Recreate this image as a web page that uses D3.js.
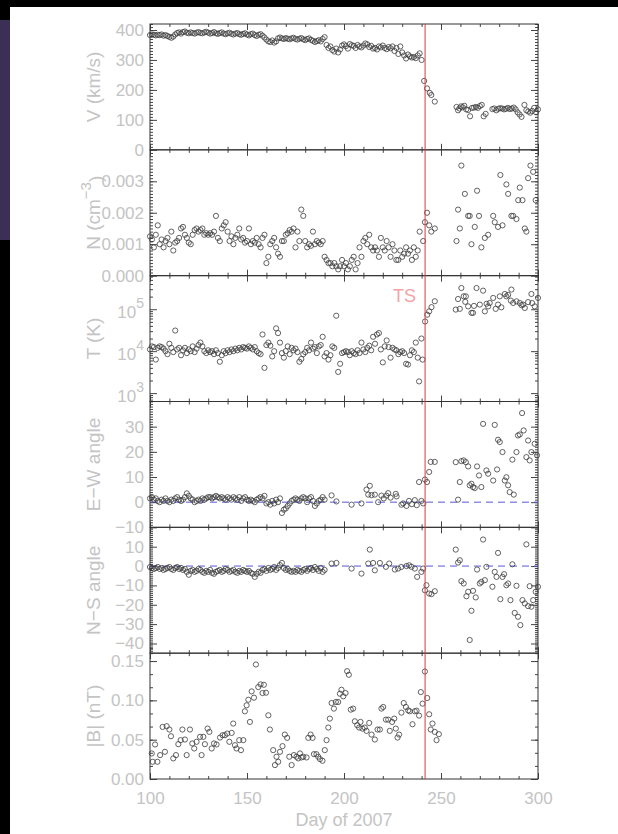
<!DOCTYPE html>
<html>
<head>
<meta charset="utf-8">
<script src="https://cdn.jsdelivr.net/npm/d3@7"></script>
<style>
  body { margin: 0; background: #000; }
  svg { display: block; }
  text { font-family: "Liberation Sans", Arial, sans-serif; }
</style>
</head>
<body>
<script>
// Voyager 2 plasma / field data around the termination shock, days of 2007
const dayTicks = [100, 150, 200, 250, 300];
const shockDay = 241.8;

const speed = [[100,383],[101,385],[102,384],[103,382],[104,384],[105,383],[106,385],[107,381],[108,383],[109,380],[110,377],[111,374],[112,378],[113,385],[114,390],[115,392],[116,388],[117,393],[118,395],[119,391],[120,389],[121,392],[122,390],[123,388],[124,391],[125,393],[126,390],[127,389],[128,392],[129,394],[130,391],[131,388],[132,390],[133,393],[134,389],[135,387],[136,390],[137,392],[138,388],[139,386],[140,389],[141,391],[142,387],[143,385],[144,388],[145,390],[146,386],[147,384],[148,387],[149,389],[150,385],[151,382],[152,386],[153,388],[154,383],[155,380],[156,384],[157,386],[158,381],[159,375],[160,368],[161,362],[162,360],[163,365],[164,358],[165,362],[166,372],[167,375],[168,372],[169,370],[170,373],[171,371],[172,369],[173,372],[174,374],[175,370],[176,368],[177,371],[178,373],[179,369],[180,366],[181,370],[182,372],[183,367],[184,364],[185,360],[186,363],[187,366],[188,362],[189,370],[190,376],
  [191,350],[192,340],[193,345],[194,333],[195,328],[196,338],[197,325],[198,335],[199,348],[200,352],[201,346],[202,338],[203,353],[204,349],[205,347],[206,340],[207,350],[208,345],[209,342],[210,348],[211,355],[212,352],[213,343],[214,347],[215,338],[216,340],[217,335],[218,345],[219,342],[220,348],[221,340],[222,336],[223,343],[224,339],[225,345],[226,330],[227,340],[228,320],[229,345],[230,325],[231,315],[232,305],[233,318],[234,312],[235,308],[236,310],[237,306],[238,315],[239,322],[240,300],[241.3,230],[242.8,205],[244.2,190],[245,183],[246.8,161],
  [258,143],[258.8,132],[259.5,138],[260.3,145],[261.2,142],[262,147],[263,135],[264,133],[265,112],[266,140],[267,141],[268,143],[269,140],[270,146],[271,150],[272,112],[273,120],[276.5,136],[277.5,138],[278.5,132],[279.5,137],[280.5,139],[281.5,138],[282.5,135],[283.5,137],[284.5,140],[285.5,136],[286.5,138],[287.5,141],[288.5,135],[289.5,125],[290.5,118],[291.5,110],[293,150],[294,132],[295,128],[296,124],[297,130],[298,140],[299,125],[300,135]];

const density = [[100,.00125],[101,.00115],[102,.0009],[103,.0013],[104,.0016],[105,.001],[106,.00115],[107,.0009],[108,.0011],[109,.0012],[110,.001],[111,.0014],[112,.0008],[113,.00105],[114,.0011],[115,.0012],[116,.0015],[117,.00155],[118,.0013],[119,.0012],[120,.00105],[121,.001],[122,.0013],[123,.00145],[124,.0015],[125,.0014],[126,.00145],[127,.0015],[128,.0013],[129,.00135],[130,.0013],[131,.00135],[132,.0013],[133,.0014],[134,.0019],[135,.0012],[136,.0011],[137,.0015],[138,.0016],[139,.0017],[140,.0014],[141,.0011],[142,.00125],[143,.001],[144,.0012],[145,.0013],[146,.0015],[147,.00115],[148,.0012],[149,.00105],[150,.0011],[151,.0015],[152,.001],[153,.0011],[154,.00105],[155,.0012],[156,.001],[157,.0009],[158,.0012],[159,.0013],[160,.0004],[161,.0006],[162,.001],[163,.0011],[164,.0012],[165,.0009],[166,.0007],[167,.0006],[168,.0011],[169,.0011],[170,.0013],[171,.00135],[172,.00145],[173,.0014],[174,.0015],[175,.0009],[176,.0014],[177,.0011],[178,.0021],[179,.0019],[180,.0011],[181,.0009],[182,.001],[183,.00095],[184,.0014],[185,.001],[186,.0011],[187,.00105],[188,.001],[189,.0011],[190,.0006],[191,.0005],[192,.0004],[193,.0004],[194,.0003],[195,.0004],[196,.0003],[197,.0002],[198,.0003],[199,.0005],[200,.0003],[201,.0004],[202,.0002],[203,.0003],[204,.0005],[205,.0006],[206,.0002],[207,.0004],[208,.0009],[209,.0006],[210,.0011],[211,.0012],[212,.001],[213,.0013],[214,.0009],[215,.0008],[216,.0009],[217,.0008],[218,.0006],[219,.0012],[220,.0009],[221,.0008],[222,.0011],[223,.0009],[224,.0006],[225,.001],[226,.0008],[227,.0005],[228,.0005],[229,.0008],[230,.0006],[231,.0007],[232,.0009],[233,.0007],[234,.0008],[235,.0005],[236,.0009],[237,.0006],[238,.0008],[239,.0014],[240.8,.0011],[241.7,.0017],[242.8,.002],[243.9,.0016],[245,.0014],[246.8,.0015],
  [258,.0011],[258.8,.0021],[259.7,.0015],[260.5,.0035],[262.3,.0026],[264,.0019],[264.8,.0019],[265.7,.001],[267.4,.00155],[268.6,.0027],[269.6,.0019],[270.8,.0009],[272.6,.0012],[274.3,.0013],[276.9,.0019],[277.7,.0017],[279.4,.00155],[280.6,.0032],[281.7,.0016],[283.7,.0029],[284.6,.0026],[286.3,.0019],[287.2,.0019],[288.9,.0018],[289.8,.0024],[290.6,.0028],[292,.0024],[293.2,.0015],[294,.0014],[294.9,.0031],[296.1,.0035],[297.5,.0033],[298.8,.0024]];

const temperature = [[100,11000],[101,13000],[102,12500],[103,6300],[104,12000],[105,13000],[106,12500],[107,11500],[108,10000],[109,8500],[110,15000],[111,12000],[112,9500],[113,31000],[114,11000],[115,12000],[116,8000],[117,10500],[118,12000],[119,9000],[120,11000],[121,10000],[122,13000],[123,9500],[124,11500],[125,14000],[126,16000],[127,13000],[128,10000],[129,9000],[130,10500],[131,9500],[132,10000],[133,8500],[134,10500],[135,9000],[136,5600],[137,8000],[138,10000],[139,9000],[140,10500],[141,9500],[142,11000],[143,10000],[144,11500],[145,10500],[146,12000],[147,11000],[148,12500],[149,12000],[150,11500],[151,13000],[152,12000],[153,11000],[154,12500],[155,10000],[156,9000],[157,8500],[158,25000],[159,4000],[160,14000],[161,16000],[162,13500],[163,7500],[164,10000],[165,35000],[166,27000],[167,16000],[168,9000],[169,7000],[170,10000],[171,13000],[172,8500],[173,12000],[174,10500],[175,11500],[176,9500],[177,5600],[178,6500],[179,8500],[180,9500],[181,12000],[182,10500],[183,16000],[184,11500],[185,12500],[186,9000],[187,13000],[188,14000],[189,22000],[190,7500],[191,9000],[192,6300],[193,8000],[194,13000],[195,12000],[196,70000],[197,3200],[198,5000],[199,9000],[200,9500],[201,10000],[202,9500],[203,8000],[204,10000],[205,9000],[206,8500],[207,10500],[208,9000],[209,16000],[210,11000],[211,9500],[212,12000],[213,13500],[214,10500],[215,22000],[216,15000],[217,25000],[218,27000],[219,11000],[220,5400],[221,13000],[222,18000],[223,12500],[224,7000],[225,12000],[226,11000],[227,10500],[228,8500],[229,9500],[230,10000],[231,9000],[232,5000],[233,4800],[234,8000],[235,10500],[236,9500],[237,16000],[238,7000],[238.7,1900],[239.9,20000],[240.5,6300],[241.8,51000],[242.9,74000],[243.9,89000],[245.1,112000],[246.8,155000],
  [257.6,98000],[258.8,175000],[259.7,102000],[260.5,320000],[261.7,203000],[262.5,150000],[262.8,203000],[264,117000],[265.7,82000],[266.5,82000],[267,120000],[268.3,320000],[270,129000],[271.7,277000],[272.6,89000],[273.5,135000],[274.3,117000],[275.1,141000],[276.9,186000],[278.2,102000],[279.4,129000],[280.3,203000],[281.1,111000],[282.9,231000],[283.7,203000],[284.6,220000],[286,160000],[286.3,294000],[287.2,141000],[288.9,154000],[290.6,141000],[291.5,125000],[292.3,129000],[293.2,107000],[294.9,148000],[296.6,231000],[297,140000],[298.3,117000],[300,186000]];

const ewAngle = [[100,1.5],[101,2],[102,1],[103,1.5],[104,0.5],[105,0],[106,1],[107,0.5],[108,1.5],[109,0.5],[110,0],[111,1],[112,0.5],[113,1.5],[114,2],[115,1],[116,0.5],[117,1],[118,2],[119,3.5],[120,2.5],[121,1.5],[122,1],[123,0],[124,0.5],[125,1],[126,0.5],[127,1.5],[128,1],[129,1.5],[130,2],[131,2],[132,1.5],[133,2],[134,2.5],[135,2],[136,1.5],[137,2],[138,1.5],[139,1],[140,2],[141,1.5],[142,1],[143,2],[144,1.5],[145,1],[146,2],[147,0.5],[148,1.5],[149,2],[150,1],[151,0.5],[152,1],[153,0.5],[154,0],[155,1],[156,1.5],[157,2],[158,1.5],[159,2.5],[160,-0.5],[161,0],[162,-1],[163,0.5],[164,-0.5],[165,1],[166,0],[167,1.5],[168,-4.3],[169,-3],[170,-2.5],[171,-1.5],[172,-0.5],[173,0.5],[174,1],[175,1.5],[176,1],[177,0.5],[178,1.5],[179,2],[180,1.5],[181,0],[182,1.5],[183,2],[184,0.5],[185,-1.5],[186,-0.5],[187,0.5],[188,1],[189,2],[190,1],
  [193.6,2.7],[196.1,0.3],[203.9,-1],[209,-0.5],[211.6,5],[212.5,3],[213.3,6.5],[214.2,2.8],[215.9,3],[217.6,0],[219.3,2.6],[220.5,1.5],[221.9,2.6],[222.8,3.6],[224,1.8],[226.7,3.3],[227.1,2.3],[229.6,-1],[230.5,-0.5],[232.2,-1.5],[233.5,0.5],[235,-0.8],[236.5,0.8],[237.5,-1.2],[238.7,8],[239.9,0.5],[240.8,-0.5],[241.7,9],[242.8,8],[243.9,12],[244.7,16],[246.8,16],
  [257.6,15.9],[258.8,1],[259.7,8],[260.5,16.3],[261.7,16.6],[262.8,15.9],[264,14.2],[264.8,6.7],[265.7,7.3],[266.5,6],[267.4,5.6],[268.6,14.2],[269.6,10.6],[270.8,6],[271.7,31.1],[273.4,12.6],[274.3,11.3],[276.9,8.6],[277.7,30.7],[278.9,13],[279.4,24.8],[280.3,23.9],[281.7,19.9],[282.9,8.6],[283.7,9.9],[284.6,6.7],[285.4,4],[286.8,16.9],[287.5,3],[288.9,19.9],[289.7,26.5],[290.6,26.9],[291.8,35.4],[292.6,28.5],[294,17.9],[294.9,24.5],[295.7,16.6],[296.6,19.9],[298.3,23.2],[299.5,18.6]];

const nsAngle = [[100,-0.5],[101,-1],[102,-1.5],[103,-1],[104,-0.5],[105,-1.5],[106,-1],[107,-2],[108,-1.5],[109,-1],[110,-0.5],[111,-1.5],[112,-2],[113,-1],[114,-0.5],[115,-1.5],[116,-1],[117,-2],[118,-1.5],[119,-3],[120,-4.5],[121,-2.5],[122,-2],[123,-3],[124,-2.5],[125,-1.5],[126,-2],[127,-3],[128,-3.5],[129,-2.5],[130,-3],[131,-2],[132,-3.5],[133,-4],[134,-3],[135,-2.5],[136,-2],[137,-3],[138,-2.5],[139,-1.5],[140,-2],[141,-3],[142,-2.5],[143,-2],[144,-3],[145,-3.5],[146,-2.5],[147,-3],[148,-2],[149,-2.5],[150,-3],[151,-2.5],[152,-3.5],[153,-4],[154,-5.6],[155,-4],[156,-3],[157,-3.5],[158,-2],[159,-1.5],[160,-2.5],[161,-1],[162,-2],[163,-1.5],[164,-0.5],[165,-2],[166,-1],[167,0.5],[168,1.6],[169,-1],[170,-2],[171,-1.5],[172,-2.5],[173,-3],[174,-2.5],[175,-3],[176,-2],[177,-2.5],[178,-3],[179,-2],[180,-1.5],[181,-2.5],[182,-1.5],[183,-1],[184,-2],[185,-0.5],[186,-1.5],[187,-2.5],[188,-1],[189,-3],[190,-2],
  [193.6,1.3],[196.1,1.6],[203.9,-1.3],[209,-3.9],[212.5,1.3],[213.3,8.5],[215,1.6],[215.9,-2.2],[218.5,1.6],[221.6,-0.4],[223.3,1.3],[226.2,-1.8],[227.9,-1.3],[229.5,-0.5],[232.2,0],[233.6,0.4],[234.8,-0.4],[236.5,-1.3],[237.7,-5.6],[239.9,-3],[240.8,-1.3],[241.7,-12.5],[242.5,-9.9],[243.9,-14.2],[245.1,-14.5],[246.8,-13],
  [257.6,8.5],[258.8,1.8],[259.7,3],[260.5,-7.8],[261.7,-9],[263.1,-15.6],[264,-13.3],[264.8,-38.2],[265.7,-23.1],[266.5,-12.8],[267.9,-16.2],[268.6,-1.8],[270,-9],[270.8,-8.2],[271.7,13.7],[272.6,-7.3],[273.4,-0.4],[276.5,-10.7],[277.7,-3],[278.6,-5.6],[279.4,6.8],[280.6,-17.1],[281.7,-5.6],[282.5,-4.2],[283.7,-9.9],[284.6,-9],[285.8,-17.6],[286.8,0.9],[288,-24.2],[288.9,-10.2],[289.7,-26.2],[290.9,-30.5],[292,-17.6],[293.2,-19.3],[294,11.2],[294.9,-20.7],[295.7,-10.4],[296.6,-21],[297.5,-17.6],[298.8,-13.3],[300,-10.7]];

const fieldB = [[100.9,.0325],[101.4,.0219],[102.6,.0439],[103.8,.0219],[105.2,.0304],[106.5,.0662],[107.7,.0346],[108.6,.0671],[110,.0629],[110.8,.0544],[112,.0262],[113.4,.0304],[114.6,.0443],[115.8,.0494],[116.7,.0629],[118,.0502],[118.9,.0304],[120.6,.0629],[121.8,.0452],[122.8,.0388],[124,.0473],[125.8,.0536],[126.6,.0304],[127.5,.0536],[128.3,.0443],[129.7,.0641],[130.6,.0599],[131.8,.0388],[133,.0452],[134.3,.0439],[136.1,.0527],[137.4,.0557],[138.6,.0557],[139.8,.0578],[140.9,.0473],[142.1,.0586],[142.9,.0705],[143.8,.043],[144.6,.0388],[146,.0494],[146.9,.0367],[148.1,.0494],[148.9,.0861],[149.8,.0937],[150.7,.1008],[151.5,.0726],[152.4,.1114],[153.6,.1034],[154.6,.1456],[155.8,.1169],[157,.1203],[158,.1093],[158.7,.1198],[159.8,.1097],[161,.081],[161.8,.0629],[163.5,.0367],[164.4,.0177],[165.2,.0283],[166.1,.0219],[167,.0346],[168.3,.0418],[169.5,.0565],[170.7,.0523],[171.8,.0283],[173,.0177],[174.2,.0304],[175.5,.0283],[176.4,.0262],[177.3,.0325],[178.1,.0274],[179,.0283],[180.7,.0274],[181.6,.0523],[182.8,.0565],[183.8,.0523],[184.5,.0316],[185.8,.0316],[186.7,.0283],[187.6,.0253],[188.9,.0232],[190.1,.0367],[191,.0494],[191.9,.0654],[192.7,.0768],[193.6,.0966],[194.8,.0895],[195.8,.0979],[197,.0979],[197.9,.1084],[198.7,.1135],[199.6,.1051],[200.8,.1093],[201.6,.1371],[202.5,.1325],[203.5,.0882],[204.7,.0895],[205.6,.0734],[206.8,.0684],[207.8,.0654],[208.5,.0726],[209.5,.0641],[210.7,.0654],[211.6,.0612],[213,.0713],[214.2,.0565],[215.9,.0502],[217.3,.0629],[218.5,.0629],[219.3,.0895],[220.2,.0916],[221.6,.0755],[222.8,.0755],[223.6,.0612],[224.8,.0726],[225.9,.0768],[226.7,.0641],[227.6,.0527],[228.4,.0565],[229.6,.0844],[230.8,.0966],[231.9,.0916],[233.1,.0873],[233.9,.0861],[235.3,.0696],[236.5,.0861],[237.4,.0869],[238.7,.0806],[239.6,.1105],[240.5,.0958],[241.7,.1367],[242.9,.103],[243.9,.0823],[244.7,.0629],[245.6,.0705],[246.8,.0599],[247.7,.0494],[248.9,.057]];

// axis settings per panel
const speedTicks = [0, 100, 200, 300, 400];
const densityTicks = [0, 0.001, 0.002, 0.003];
const tempTicks = [1e3, 1e4, 1e5];
const tempRange = [631, 631000];
const ewTicks = [-10, 0, 10, 20, 30];
const nsTicks = [-40, -30, -20, -10, 0, 10];
const fieldTicks = [0, 0.05, 0.10, 0.15];

const minus = d => d3.format("d")(d).replace("-", "\u2212");

const panels = [
  { data: speed, domain: [0, 420], ticks: speedTicks, minor: 10, fmt: d3.format("d"), title: ["V (km/s)"] },
  { data: density, domain: [0, 0.004], ticks: densityTicks, minor: 0.0001, fmt: d3.format(".3f"), title: ["N (cm", "\u22123", ")"] },
  { data: temperature, domain: tempRange, ticks: tempTicks, log: true, title: ["T (K)"] },
  { data: ewAngle, domain: [-10, 40], ticks: ewTicks, minor: 1, fmt: minus, title: ["E\u2212W angle"], zero: true },
  { data: nsAngle, domain: [-45, 20], ticks: nsTicks, minor: 1, fmt: minus, title: ["N\u2212S angle"], zero: true },
  { data: fieldB, domain: [0, 0.16], ticks: fieldTicks, minor: 0.05 / 3, fmt: d3.format(".2f"), title: ["|B| (nT)"] }
];

const W = 618, H = 834;
const plotLeft = 150, plotRight = 538, plotTop = 24, plotBottom = 779;
const panelH = (plotBottom - plotTop) / panels.length;
const labelColor = "#c4c4c4";
const tickColor = "#444";

const x = d3.scaleLinear().domain([100, 300]).range([plotLeft, plotRight]);

const svg = d3.select("body").append("svg")
  .attr("width", W)
  .attr("height", H);

// white page on black screen
svg.append("rect").attr("x", 0).attr("y", 20).attr("width", 10).attr("height", 220).attr("fill", "#3b2f55");
svg.append("rect").attr("x", 10).attr("y", 7).attr("width", W - 10).attr("height", H - 7).attr("fill", "#fff");

function minorValues(p) {
  if (p.log) {
    const vals = [];
    for (let e = 2; e <= 5; e++) {
      for (let m = 2; m <= 9; m++) {
        const v = m * Math.pow(10, e);
        if (v > p.domain[0] && v < p.domain[1]) vals.push(v);
      }
    }
    return vals;
  }
  const n = Math.round((p.domain[1] - p.domain[0]) / p.minor);
  return d3.range(0, n + 1).map(k => p.domain[0] + k * p.minor);
}

function styleAxis(sel) {
  sel.select(".domain").remove();
  sel.selectAll(".tick line").attr("stroke", tickColor).attr("stroke-width", 1);
  sel.selectAll("text").attr("fill", labelColor).style("font-size", "17px")
    .style("font-family", "'Liberation Sans', Arial, sans-serif");
}

panels.forEach((p, i) => {
  const y0 = plotTop + i * panelH;
  const y1 = y0 + panelH;
  const y = (p.log ? d3.scaleLog() : d3.scaleLinear()).domain(p.domain).range([y1, y0]);
  const g = svg.append("g");

  // y minor ticks, both sides
  const minors = minorValues(p);
  g.append("g").attr("transform", `translate(${plotLeft},0)`)
    .call(d3.axisLeft(y).tickValues(minors).tickSize(-3).tickFormat(""))
    .call(styleAxis);
  g.append("g").attr("transform", `translate(${plotRight},0)`)
    .call(d3.axisRight(y).tickValues(minors).tickSize(-3).tickFormat(""))
    .call(styleAxis);

  // y major ticks with labels on the left
  const yl = g.append("g").attr("transform", `translate(${plotLeft},0)`)
    .call(d3.axisLeft(y).tickValues(p.ticks).tickSize(-7).tickPadding(6)
      .tickFormat(p.log ? () => "" : p.fmt))
    .call(styleAxis);
  g.append("g").attr("transform", `translate(${plotRight},0)`)
    .call(d3.axisRight(y).tickValues(p.ticks).tickSize(-7).tickFormat(""))
    .call(styleAxis);

  if (p.log) {
    yl.selectAll(".tick text").each(function(d) {
      const t = d3.select(this);
      t.attr("dy", "0.5em");
      t.append("tspan").text("10");
      t.append("tspan").attr("dy", "-0.75em").style("font-size", "14px")
        .text(Math.round(Math.log10(d)));
    });
  }

  // x ticks on top and bottom of every panel
  const xMinor = d3.range(100, 301, 10);
  g.append("g").attr("transform", `translate(0,${y1})`)
    .call(d3.axisBottom(x).tickValues(xMinor).tickSize(-3).tickFormat(""))
    .call(styleAxis);
  g.append("g").attr("transform", `translate(0,${y0})`)
    .call(d3.axisTop(x).tickValues(xMinor).tickSize(-3).tickFormat(""))
    .call(styleAxis);
  g.append("g").attr("transform", `translate(0,${y0})`)
    .call(d3.axisTop(x).tickValues(dayTicks).tickSize(-6).tickFormat(""))
    .call(styleAxis);
  g.append("g").attr("transform", `translate(0,${y1})`)
    .call(d3.axisBottom(x).tickValues(dayTicks).tickSize(-6).tickPadding(13)
      .tickFormat(i === panels.length - 1 ? d3.format("d") : ""))
    .call(styleAxis);

  // frame
  g.append("rect")
    .attr("x", plotLeft).attr("y", y0)
    .attr("width", plotRight - plotLeft).attr("height", panelH)
    .attr("fill", "none").attr("stroke", "#333").attr("stroke-width", 1);

  // zero line
  if (p.zero) {
    g.append("line")
      .attr("x1", plotLeft).attr("x2", plotRight)
      .attr("y1", y(0)).attr("y2", y(0))
      .attr("stroke", "#5656d8").attr("stroke-width", 1)
      .attr("stroke-dasharray", "7,5");
  }

  // data points
  g.append("g").selectAll("circle")
    .data(p.data)
    .enter()
    .append("circle")
    .attr("cx", d => x(d[0]))
    .attr("cy", d => y(d[1]))
    .attr("r", 2.6)
    .attr("fill", "none")
    .attr("stroke", "#3c3c3c")
    .attr("stroke-width", 0.8);

  // panel title, rotated
  const cy = (y0 + y1) / 2;
  const title = g.append("text")
    .attr("transform", "rotate(-90)")
    .attr("x", -cy)
    .attr("y", 100)
    .attr("text-anchor", "middle")
    .attr("fill", labelColor)
    .style("font-size", "19px");
  title.append("tspan").text(p.title[0]);
  if (p.title.length > 1) {
    title.append("tspan").attr("dy", "-0.6em").style("font-size", "15px").text(p.title[1]);
    title.append("tspan").attr("dy", "0.6em").text(p.title[2]);
  }
});

// termination shock crossing
svg.append("line")
  .attr("x1", x(shockDay)).attr("x2", x(shockDay))
  .attr("y1", plotTop).attr("y2", plotBottom)
  .attr("stroke", "#d83a3a").attr("stroke-width", 1);

svg.append("text")
  .attr("x", x(shockDay) - 9)
  .attr("y", plotTop + 2 * panelH + 26)
  .attr("text-anchor", "end")
  .attr("fill", "#f2a4a4")
  .style("font-size", "18px")
  .text("TS");

svg.append("text")
  .attr("x", (plotLeft + plotRight) / 2)
  .attr("y", 826)
  .attr("text-anchor", "middle")
  .attr("fill", labelColor)
  .style("font-size", "18px")
  .text("Day of 2007");
</script>
</body>
</html>
